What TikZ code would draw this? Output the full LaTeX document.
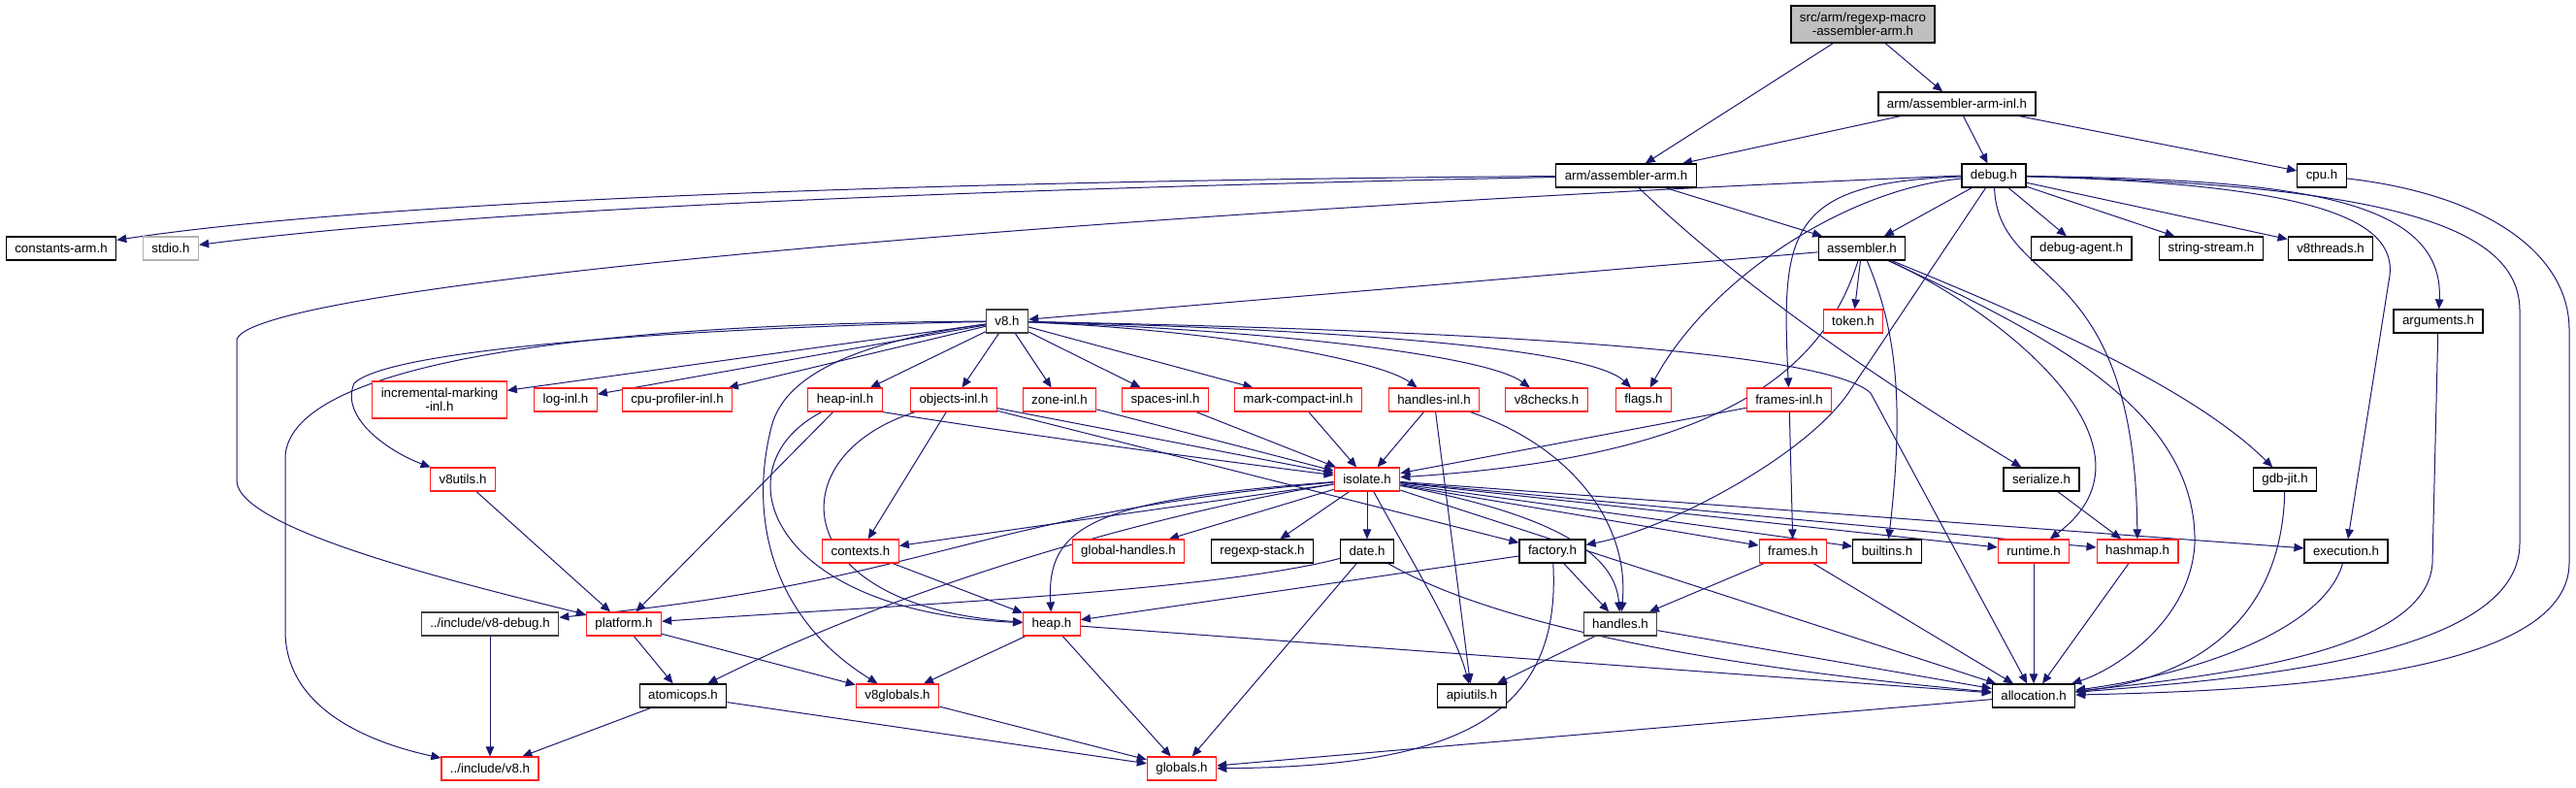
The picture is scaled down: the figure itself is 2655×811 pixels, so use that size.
\documentclass[tikz,border=0pt]{standalone}
\usepackage{fontspec}
\setmainfont{Liberation Sans}
\usetikzlibrary{arrows.meta,backgrounds}
\definecolor{edgeblue}{HTML}{191970}
\definecolor{rootgray}{HTML}{BFBFBF}
\definecolor{truncred}{HTML}{FF2020}

\begin{document}
\begin{tikzpicture}[
  x=1pt, y=-1pt,
  font=\fontsize{13.3}{14}\selectfont,
  hdr/.style={draw=black, line width=1.2pt, fill=white, align=center,
              minimum height=24pt, inner xsep=9pt, inner ysep=1pt},
  trunc/.style={hdr, draw=truncred},
  undoc/.style={hdr, draw=black!30},
  dark/.style={hdr, draw=black!75},
  top/.style={hdr, fill=rootgray, minimum height=38pt},
  dep/.style={-{Triangle[length=10pt,width=8.5pt]}, draw=edgeblue, line width=1pt}
]
\useasboundingbox (0,0) rectangle (2655,811);
% rows 0-4
\node[top] (root) at (1920,25) {src/arm/regexp-macro\\-assembler-arm.h};
\node[hdr] (arminl) at (2017,107) {arm/assembler-arm-inl.h};
\node[hdr] (armasm) at (1676,181) {arm/assembler-arm.h};
\node[hdr] (debug) at (2055,181) {debug.h};
\node[hdr] (cpu) at (2393,181) {cpu.h};
\node[hdr] (constarm) at (63,256) {constants-arm.h};
\node[undoc] (stdio) at (176,256) {stdio.h};
\node[hdr] (assembler) at (1919,256) {assembler.h};
\node[hdr] (dbgagent) at (2145,256) {debug-agent.h};
\node[hdr] (strstream) at (2279,256) {string-stream.h};
\node[hdr] (threads) at (2402,256) {v8threads.h};
\node[dark] (veight) at (1038,331) {v8.h};
\node[trunc] (token) at (1910,331) {token.h};
\node[hdr] (arguments) at (2513,331) {arguments.h};
% row 5
\node[trunc, minimum height=38pt] (incmark) at (453,412) {incremental-marking\\-inl.h};
\node[trunc] (loginl) at (583,412) {log-inl.h};
\node[trunc] (cpuprof) at (698,412) {cpu-profiler-inl.h};
\node[trunc] (heapinl) at (871,412) {heap-inl.h};
\node[trunc] (objinl) at (983,412) {objects-inl.h};
\node[trunc] (zoneinl) at (1092,412) {zone-inl.h};
\node[trunc] (spacesinl) at (1201,412) {spaces-inl.h};
\node[trunc] (mcinl) at (1338,412) {mark-compact-inl.h};
\node[trunc] (handlesinl) at (1478,412) {handles-inl.h};
\node[trunc] (checks) at (1594,412) {v8checks.h};
\node[trunc] (flags) at (1694,412) {flags.h};
\node[trunc] (framesinl) at (1844,412) {frames-inl.h};
% rows 6-7
\node[trunc] (utils) at (477,494) {v8utils.h};
\node[trunc] (isolate) at (1409,494) {isolate.h};
\node[hdr] (serialize) at (2104,494) {serialize.h};
\node[hdr] (gdbjit) at (2355,494) {gdb-jit.h};
\node[trunc] (contexts) at (887,568) {contexts.h};
\node[trunc] (globhandles) at (1163,568) {global-handles.h};
\node[hdr] (regexpstack) at (1301,568) {regexp-stack.h};
\node[hdr] (date) at (1409,568) {date.h};
\node[hdr] (factory) at (1600,568) {factory.h};
\node[trunc] (frames) at (1848,568) {frames.h};
\node[hdr] (builtins) at (1945,568) {builtins.h};
\node[trunc] (runtime) at (2096,568) {runtime.h};
\node[trunc] (hashmap) at (2203,568) {hashmap.h};
\node[hdr] (execution) at (2418,568) {execution.h};
% rows 8-10
\node[dark] (incdebug) at (505,643) {../include/v8-debug.h};
\node[trunc] (platform) at (643,643) {platform.h};
\node[trunc] (heap) at (1084,643) {heap.h};
\node[dark] (handles) at (1670,643) {handles.h};
\node[hdr] (atomicops) at (704,717) {atomicops.h};
\node[trunc] (globalseight) at (925,717) {v8globals.h};
\node[hdr] (apiutils) at (1517,717) {apiutils.h};
\node[hdr] (allocation) at (2096,717) {allocation.h};
\node[trunc] (incveight) at (505,792) {../include/v8.h};
\node[trunc] (globals) at (1218,792) {globals.h};

\begin{scope}[on background layer]
\fill[white] (0,0) rectangle (2655,811);
% top of the graph
\draw[dep] (root) -- (armasm);
\draw[dep] (root) -- (arminl);
\draw[dep] (arminl) -- (armasm);
\draw[dep] (arminl) -- (debug);
\draw[dep] (arminl) -- (cpu);
\draw[dep] (armasm) .. controls (1000,186) and (400,205) .. (constarm);
\draw[dep] (armasm) .. controls (1000,195) and (500,215) .. (stdio);
\draw[dep] (armasm) -- (assembler);
\draw[dep] (armasm) .. controls (1800,300) and (1950,400) .. (serialize);
% debug.h
\draw[dep] (debug.west) .. controls (1200,215) and (260,290) .. (244,350) -- (244,495)
  .. controls (244,545) and (470,600) .. (platform);
\draw[dep] (debug) -- (assembler);
\draw[dep] (debug) -- (dbgagent);
\draw[dep] (debug) -- (strstream);
\draw[dep] (debug) -- (threads);
\draw[dep] (debug) .. controls (1840,188) and (1836,240) .. (framesinl);
\draw[dep] (debug) .. controls (1900,195) and (1760,290) .. (flags);
\draw[dep] (debug) -- (1905,405) .. controls (1860,470) and (1720,545) .. (factory);
\draw[dep] (debug) .. controls (2060,300) and (2200,260) .. (hashmap);
\draw[dep] (debug) .. controls (2350,185) and (2520,200) .. (arguments);
\draw[dep] (debug) .. controls (2400,190) and (2475,230) .. (2462,290) -- (execution);
\draw[dep] (debug) .. controls (2450,190) and (2597,230) .. (2597,320) -- (2597,560)
  .. controls (2597,680) and (2300,700) .. (allocation);
\draw[dep] (cpu) .. controls (2560,200) and (2648,260) .. (2648,340) -- (2648,580)
  .. controls (2648,700) and (2320,712) .. (allocation);
% assembler.h
\draw[dep] (assembler) -- (veight);
\draw[dep] (assembler) -- (token);
\draw[dep] (assembler) .. controls (1880,380) and (1780,470) .. (isolate);
\draw[dep] (assembler) .. controls (1950,330) and (1965,400) .. (builtins);
\draw[dep] (assembler) .. controls (2060,320) and (2240,460) .. (runtime);
\draw[dep] (assembler) .. controls (2100,340) and (2265,420) .. (2262,560)
  .. controls (2258,640) and (2180,690) .. (allocation);
\draw[dep] (assembler) .. controls (2100,330) and (2260,400) .. (gdbjit);
% v8.h
\draw[dep] (veight) -- (incmark);
\draw[dep] (veight) -- (loginl);
\draw[dep] (veight) -- (cpuprof);
\draw[dep] (veight) -- (heapinl);
\draw[dep] (veight) -- (objinl);
\draw[dep] (veight) -- (zoneinl);
\draw[dep] (veight) -- (spacesinl);
\draw[dep] (veight) -- (mcinl);
\draw[dep] (veight) .. controls (1250,340) and (1420,370) .. (handlesinl);
\draw[dep] (veight) .. controls (1300,340) and (1530,365) .. (checks);
\draw[dep] (veight) .. controls (1400,340) and (1640,360) .. (flags);
\draw[dep] (veight) .. controls (1500,340) and (1880,360) .. (1928,405) -- (allocation);
\draw[dep] (veight) .. controls (700,338) and (400,360) .. (365,395)
  .. controls (350,430) and (400,465) .. (utils);
\draw[dep] (veight) .. controls (600,333) and (300,375) .. (294,470) -- (294,650)
  .. controls (294,730) and (380,765) .. (incveight);
\draw[dep] (veight) .. controls (900,350) and (810,380) .. (795,440)
  .. controls (770,540) and (800,640) .. (globalseight);
% row 5
\draw[dep] (heapinl.south east) .. controls (1100,455) and (1300,480) .. (isolate);
\draw[dep] (heapinl) -- (platform);
\draw[dep] (heapinl) .. controls (740,480) and (790,630) .. (heap);
\draw[dep] (objinl) -- (isolate);
\draw[dep] (objinl) -- (factory);
\draw[dep] (objinl) -- (contexts);
\draw[dep] (objinl) .. controls (800,470) and (810,625) .. (heap);
\draw[dep] (zoneinl) -- (isolate);
\draw[dep] (spacesinl) -- (isolate);
\draw[dep] (mcinl) -- (isolate);
\draw[dep] (handlesinl) -- (isolate);
\draw[dep] (handlesinl) -- (apiutils);
\draw[dep] (handlesinl) .. controls (1620,460) and (1680,540) .. (handles);
\draw[dep] (framesinl) -- (isolate);
\draw[dep] (framesinl) -- (frames);
\draw[dep] (utils) -- (platform);
% isolate.h
\draw[dep] (isolate) -- (contexts);
\draw[dep] (isolate) .. controls (1000,530) and (960,600) .. (incdebug);
\draw[dep] (isolate) .. controls (1300,510) and (1000,570) .. (atomicops);
\draw[dep] (isolate) .. controls (1130,515) and (1078,540) .. (heap);
\draw[dep] (isolate) -- (globhandles);
\draw[dep] (isolate) -- (regexpstack);
\draw[dep] (isolate) -- (date);
\draw[dep] (isolate) .. controls (1450,570) and (1500,650) .. (apiutils);
\draw[dep] (isolate) .. controls (1600,530) and (1665,570) .. (handles);
\draw[dep] (isolate) -- (allocation);
\draw[dep] (isolate) -- (frames);
\draw[dep] (isolate) -- (builtins);
\draw[dep] (isolate) -- (runtime);
\draw[dep] (isolate) -- (hashmap);
\draw[dep] (isolate) -- (execution);
% rows 6-7
\draw[dep] (serialize) -- (hashmap);
\draw[dep] (gdbjit) .. controls (2352,640) and (2260,700) .. (allocation);
\draw[dep] (arguments) -- (2507,580) .. controls (2502,670) and (2300,695) .. (allocation);
\draw[dep] (contexts) -- (heap);
\draw[dep] (date) .. controls (1250,610) and (900,625) .. (platform);
\draw[dep] (date) -- (globals);
\draw[dep] (date) .. controls (1550,650) and (1800,690) .. (allocation);
\draw[dep] (factory) -- (heap);
\draw[dep] (factory) -- (handles);
\draw[dep] (factory) .. controls (1610,740) and (1500,790) .. (globals);
\draw[dep] (frames) -- (handles);
\draw[dep] (frames) -- (allocation);
\draw[dep] (runtime) -- (allocation);
\draw[dep] (hashmap) -- (allocation);
\draw[dep] (execution) .. controls (2395,650) and (2260,695) .. (allocation);
% rows 8-9
\draw[dep] (incdebug) -- (incveight);
\draw[dep] (platform) -- (atomicops);
\draw[dep] (platform) -- (globalseight);
\draw[dep] (heap) -- (globalseight);
\draw[dep] (heap) -- (globals);
\draw[dep] (heap) -- (allocation);
\draw[dep] (handles) -- (apiutils);
\draw[dep] (handles) -- (allocation);
\draw[dep] (atomicops) -- (incveight);
\draw[dep] (atomicops) -- (globals);
\draw[dep] (globalseight) -- (globals);
\draw[dep] (allocation) -- (globals);
\end{scope}
\end{tikzpicture}
\end{document}
